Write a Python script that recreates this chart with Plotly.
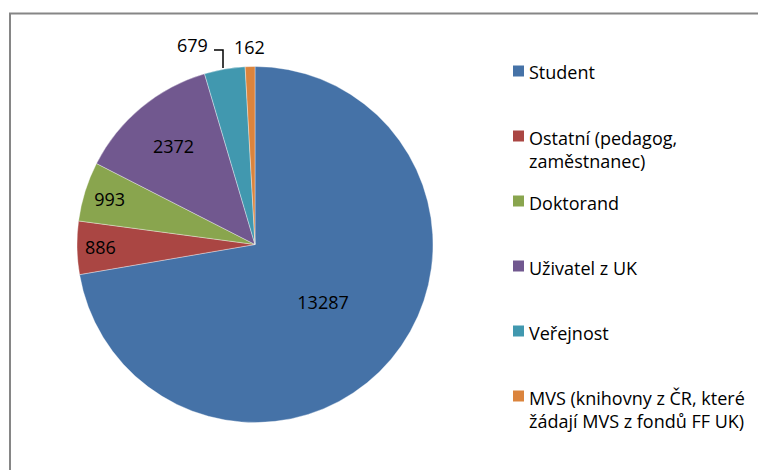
import plotly.graph_objects as go

# data
labels = ["Student", "Ostatní (pedagog,<br>zaměstnanec)", "Doktorand", "Uživatel z UK",
          "Veřejnost", "MVS (knihovny z ČR, které<br>žádají MVS z fondů FF UK)"]
values = [13287, 886, 993, 2372, 679, 162]
colors = ["#4572A7", "#AA4643", "#89A54E", "#71588F", "#4198AF", "#DB843D"]
text_pos = ["inside", "inside", "inside", "inside", "none", "none"]

W, H = 766, 470
FONT = "Open Sans"
OFF = 8  # page body margin


def px(x):
    return (x - OFF) / W


def py(y):
    return 1 - (y - OFF) / H


# pie centre (255, 244.5), radius 178 px (screen coords)
cx, cy, r = 255, 244.5, 178

fig = go.Figure(go.Pie(
    labels=labels,
    values=values,
    sort=False,
    direction="clockwise",
    rotation=0,
    marker=dict(colors=colors, line=dict(color="rgba(255,255,255,0.6)", width=0.6)),
    texttemplate="%{value:d}",
    textposition=text_pos,
    insidetextorientation="horizontal",
    textfont=dict(family=FONT, size=18, color="black"),
    domain=dict(x=[px(cx - r), px(cx + r)], y=[py(cy + r), py(cy - r)]),
    showlegend=False,
    hoverinfo="label+value+percent",
))

annotations = []
shapes = []

# outside labels for the two small slices
annotations.append(dict(x=px(192), y=py(45), xref="paper", yref="paper", text=str(values[4]),
                        xanchor="center", yanchor="middle",
                        showarrow=False, font=dict(family=FONT, size=18, color="black")))
annotations.append(dict(x=px(249), y=py(47), xref="paper", yref="paper", text=str(values[5]),
                        xanchor="center", yanchor="middle",
                        showarrow=False, font=dict(family=FONT, size=18, color="black")))
shapes.append(dict(type="path", xref="paper", yref="paper",
                   path=f"M{px(214)},{py(50)} L{px(223)},{py(50)} L{px(223)},{py(68)}",
                   line=dict(color="black", width=1.5)))

# legend, one slot of 65 px per category
for i, (lab, col) in enumerate(zip(labels, colors)):
    yc = 71 + 65 * i
    shapes.append(dict(type="rect", xref="paper", yref="paper",
                       x0=px(513), x1=px(524), y0=py(yc - 5.5), y1=py(yc + 5.5),
                       fillcolor=col, line=dict(width=0)))
    annotations.append(dict(x=px(527), y=py(yc - 12.5), xref="paper", yref="paper",
                            xanchor="left", yanchor="top", align="left", text=lab,
                            showarrow=False, font=dict(family=FONT, size=18, color="black")))

# chart frame
shapes.append(dict(type="rect", xref="paper", yref="paper",
                   x0=px(10), x1=1.05, y0=-0.05, y1=py(13.5),
                   line=dict(color="#868686", width=2), fillcolor="rgba(0,0,0,0)"))

fig.update_layout(
    width=W, height=H,
    margin=dict(l=0, r=0, t=0, b=0),
    paper_bgcolor="white",
    plot_bgcolor="white",
    uniformtext=dict(minsize=18, mode="show"),
    annotations=annotations,
    shapes=shapes,
)

fig.write_html("out.html")
